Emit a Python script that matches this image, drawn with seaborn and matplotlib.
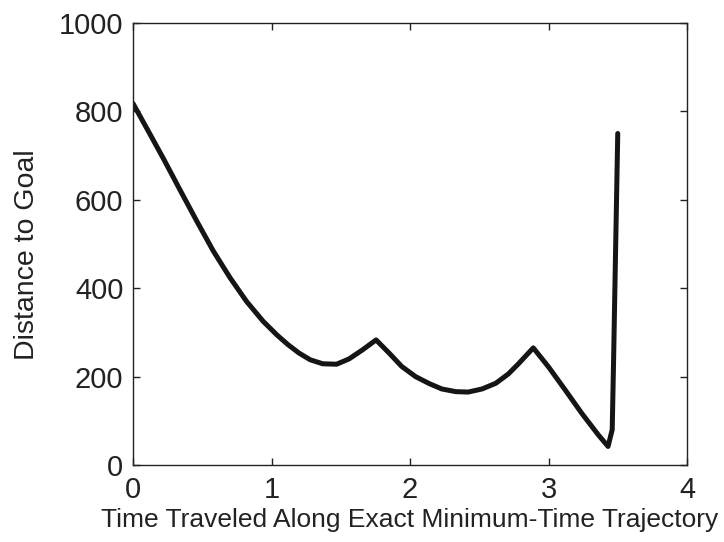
import matplotlib
matplotlib.use("Agg")
import matplotlib.pyplot as plt
import seaborn as sns
import pandas as pd

# Distance to the goal along the exact minimum-time trajectory
time_traveled = [0.0, 0.12, 0.22, 0.34, 0.46, 0.58, 0.70, 0.82, 0.94, 1.04,
                 1.12, 1.20, 1.28, 1.37, 1.47, 1.56, 1.655, 1.755,
                 1.85, 1.94, 2.04, 2.14, 2.23, 2.33, 2.42, 2.52, 2.62,
                 2.71, 2.78, 2.89, 3.00, 3.12, 3.24, 3.36, 3.43,
                 3.46, 3.47, 3.48, 3.50]
distance_to_goal = [818, 750, 693, 622, 552, 484, 424, 370, 325, 294,
                    272, 253, 238, 229, 228, 240, 260, 283,
                    253, 223, 200, 184, 172, 166, 165, 172, 185,
                    206, 228, 265, 222, 170, 117, 68, 42,
                    80, 237, 411, 750]

x_ticks = [0, 1, 2, 3, 4]
y_ticks = [0, 200, 400, 600, 800, 1000]

df = pd.DataFrame({"t": time_traveled, "d": distance_to_goal})

sns.set_style("ticks")
plt.rcParams["font.family"] = ["Liberation Sans", "DejaVu Sans"]

fig = plt.figure(figsize=(7.24, 5.42), dpi=100)
ax = fig.add_axes([133 / 724, 1 - 465 / 542, (687 - 133) / 724, (465 - 23) / 542])

sns.lineplot(data=df, x="t", y="d", ax=ax, color="#151515", linewidth=3.6,
             sort=False, estimator=None)
ax.lines[0].set_solid_joinstyle("round")

ax.set_xlim(0, 4)
ax.set_ylim(0, 1000)
ax.set_xticks(x_ticks)
ax.set_yticks(y_ticks)
ax.set_xticklabels([str(v) for v in x_ticks])
ax.set_yticklabels([str(v) for v in y_ticks])

for side in ["top", "right", "left", "bottom"]:
    ax.spines[side].set_visible(True)
    ax.spines[side].set_color("#222222")
    ax.spines[side].set_linewidth(1.0)

ax.tick_params(direction="in", length=5, width=1, color="#222222",
               top=True, right=True, labelsize=21, labelcolor="#222222")
ax.tick_params(axis="x", pad=8)
ax.tick_params(axis="y", pad=7)

ax.set_xlabel("Time Traveled Along Exact Minimum-Time Trajectory",
              fontsize=19, color="#222222")
ax.set_ylabel("Distance to Goal", fontsize=20.5, color="#222222")
ax.xaxis.set_label_coords(0.5, -0.098)
ax.yaxis.set_label_coords(-0.168, 0.475)

fig.savefig("out.png", dpi=100)
